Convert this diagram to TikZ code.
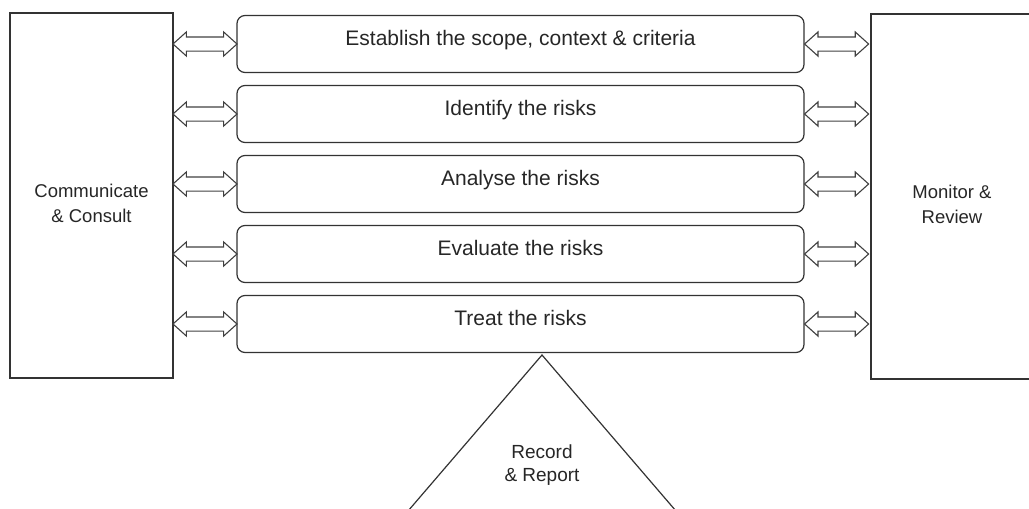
\documentclass[tikz,border=0pt]{standalone}
\usepackage{fontspec}
\setmainfont{Liberation Sans}
\usetikzlibrary{positioning}
\usetikzlibrary{calc}
\usetikzlibrary{shapes.arrows}

\tikzset{
    stepbox/.style = {draw=black!80, line width=1.2pt, rounded corners=8pt,
                      minimum width=567pt, minimum height=57pt, inner sep=0pt,
                      font=\fontsize{21}{25}\selectfont, text=black!85,
                      text height=15pt, text depth=12pt},
    sidebox/.style = {draw=black!80, line width=1.2pt, minimum height=365pt, inner sep=0pt},
    sidetxt/.style = {align=center, font=\fontsize{18.5}{25}\selectfont, text=black!85},
    dblarrow/.style = {double arrow, draw=black!75, line width=1.1pt,
                       inner xsep=0pt, inner ysep=6.5pt,
                       minimum height=64pt, minimum width=24pt,
                       double arrow head extend=5pt, double arrow tip angle=84}
}

\begin{document}
\begin{tikzpicture}[x=1pt,y=-1pt]

            \useasboundingbox (0,0) rectangle (1029,509);
            \clip (0,0) rectangle (1029,509);

            % side boxes
            \node (comm) [sidebox, minimum width=163pt] at (91.5,195.5) {};
            \node (review) [sidebox, minimum width=220pt] at (981,196.5) {};
            \node (commtxt) [sidetxt] at ([yshift=-8pt]comm.center) {Communicate\\\& Consult};
            \node (reviewtxt) [sidetxt] at (952,204) {Monitor \&\\Review};

            % process steps
            \path   (520.5,44)  node (s1) [stepbox] {Establish the scope, context \& criteria}
                    (520.5,114) node (s2) [stepbox] {Identify the risks}
                    (520.5,184) node (s3) [stepbox] {Analyse the risks}
                    (520.5,254) node (s4) [stepbox] {Evaluate the risks}
                    (520.5,324) node (s5) [stepbox] {Treat the risks};

            % arrows to both sides
            \foreach \s in {s1,s2,s3,s4,s5} {
                \node (\s l) [dblarrow] at ($(comm.east |- \s.west)!0.5!(\s.west)$) {};
                \node (\s r) [dblarrow] at ($(\s.east)+(32,0)$) {};
            }

            % record & report
            \coordinate (apex) at (542,355);
            \draw[black!80, line width=1.2pt] (apex) -- ++(-146,170) -- ++(292,0) -- cycle;
            \node (record) [sidetxt, font=\fontsize{19}{23.5}\selectfont] at (542,465) {Record\\\& Report};

\end{tikzpicture}
\end{document}
